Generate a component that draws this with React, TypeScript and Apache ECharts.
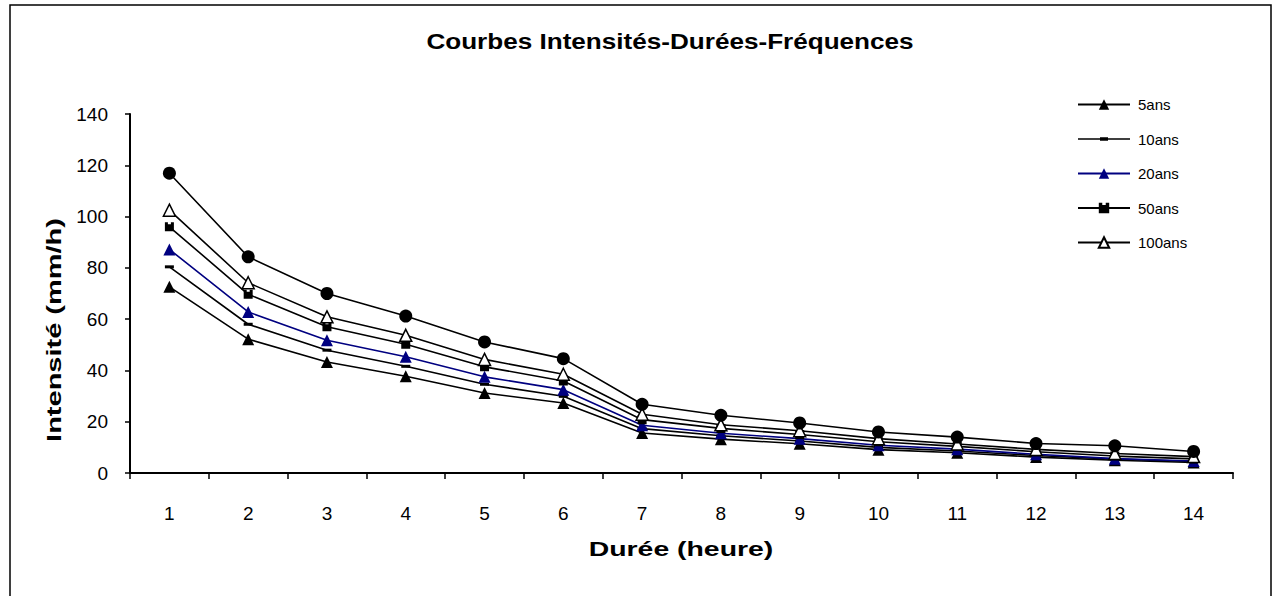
import React, { useEffect, useRef } from "react";
import * as echarts from "echarts";

const categories = ["1", "2", "3", "4", "5", "6", "7", "8", "9", "10", "11", "12", "13", "14"];
const yTicks = [0, 140, 20]; // min, max, interval

const s5ans = [72.6, 52.2, 43.3, 37.7, 31.2, 27.3, 15.6, 13.2, 11.4, 9.1, 7.9, 6.2, 5.0, 4.1];
const s10ans = [80.4, 58.0, 47.9, 41.6, 34.6, 29.9, 17.3, 14.5, 12.5, 10.0, 8.6, 6.8, 5.4, 4.5];
const s20ans = [87.2, 62.8, 51.8, 45.3, 37.5, 32.5, 18.6, 15.5, 13.4, 10.8, 9.3, 7.3, 5.6, 4.7];
const s50ans = [96.0, 69.7, 57.0, 50.2, 41.4, 35.9, 20.8, 17.4, 15.0, 12.2, 10.4, 8.3, 6.6, 5.5];
const s100ans = [102.5, 74.2, 60.9, 53.7, 44.3, 38.5, 22.9, 18.8, 16.5, 13.4, 11.3, 9.2, 7.6, 6.4];
const sSerie6 = [116.9, 84.3, 70.0, 61.2, 51.1, 44.6, 26.8, 22.5, 19.5, 16.0, 14.0, 11.5, 10.6, 8.4];

const legendNames = ["5ans", "10ans", "20ans", "50ans", "100ans"];

const FONT = "'Liberation Sans', Arial, sans-serif";

const DASH = "path://M0,0h9v3h-9z";
const CASTLE = "path://M0,0h3v2h3v-2h3v9h-9z";
const DASH_LEGEND = "path://M0,1h52v1.6h-52z M22,0h8v3.6h-8z";

export default function App() {
  const ref = useRef<HTMLDivElement>(null);
  useEffect(() => {
    if (!ref.current) return;
    const chart = echarts.init(ref.current, undefined, { renderer: "svg" });
    const lineBase = (name: string, data: number[], color: string, symbol: any, symbolSize: any, extraItem: any = {}, keep = false) => ({
      name,
      type: "line",
      data,
      symbol,
      symbolSize,
      symbolKeepAspect: keep,
      showAllSymbol: true,
      lineStyle: { color, width: 1.6 },
      itemStyle: { color, ...extraItem },
      emphasis: { disabled: true },
    });
    chart.setOption({
      animation: false,
      backgroundColor: "#fff",
      textStyle: { fontFamily: FONT },
      grid: { left: 130, right: 47, top: 114, bottom: 123, containLabel: false },
      legend: {
        data: legendNames.map((n) => (n === "10ans" ? { name: n, icon: DASH_LEGEND } : { name: n })),
        orient: "vertical",
        left: 1077,
        top: 97,
        padding: 0,
        itemWidth: 52,
        itemHeight: 13,
        itemGap: 19.5,
        symbolKeepAspect: true,
        textStyle: { fontFamily: FONT, fontSize: 15, color: "#000", padding: [0, 0, 0, 3] },
        selectedMode: false,
      },
      xAxis: {
        type: "category",
        data: categories,
        boundaryGap: true,
        axisLine: { lineStyle: { color: "#000", width: 2 } },
        axisTick: { show: true, inside: false, length: 6, lineStyle: { color: "#000", width: 1.5 } },
        axisLabel: { color: "#000", fontSize: 19, fontFamily: FONT, margin: 31 },
        splitLine: { show: false },
      },
      yAxis: {
        type: "value",
        min: yTicks[0],
        max: yTicks[1],
        interval: yTicks[2],
        axisLine: { show: true, lineStyle: { color: "#000", width: 2 } },
        axisTick: { show: true, inside: false, length: 5, lineStyle: { color: "#000", width: 1.5 } },
        axisLabel: { color: "#000", fontSize: 19, fontFamily: FONT, margin: 22 },
        splitLine: { show: false },
      },
      graphic: [
        {
          type: "rect",
          z: -10,
          shape: { x: 10, y: 5, width: 1261, height: 600 },
          style: { fill: "none", stroke: "#000", lineWidth: 1.5 },
        },
        {
          type: "text",
          x: 670,
          y: 41,
          scaleX: 1.16,
          style: {
            text: "Courbes Intensités-Durées-Fréquences",
            font: `bold 22.5px ${FONT}`,
            fill: "#000",
            textAlign: "center",
            textVerticalAlign: "middle",
          },
        },
        {
          type: "text",
          x: 681,
          y: 549,
          scaleX: 1.42,
          style: {
            text: "Durée (heure)",
            font: `bold 20px ${FONT}`,
            fill: "#000",
            textAlign: "center",
            textVerticalAlign: "middle",
          },
        },
        {
          type: "text",
          x: 54,
          y: 330,
          rotation: Math.PI / 2,
          scaleX: 1.45,
          style: {
            text: "Intensité (mm/h)",
            font: `bold 20px ${FONT}`,
            fill: "#000",
            textAlign: "center",
            textVerticalAlign: "middle",
          },
        },
      ],
      series: [
        lineBase("5ans", s5ans, "#000", "triangle", 12),
        lineBase("10ans", s10ans, "#000", DASH, 9, {}, true),
        lineBase("20ans", s20ans, "#000080", "triangle", 12),
        lineBase("50ans", s50ans, "#000", CASTLE, 9, {}, true),
        lineBase("100ans", s100ans, "#000", "triangle", 12, { color: "#fff", borderColor: "#000", borderWidth: 1.5 }),
        lineBase("Série6", sSerie6, "#000", "circle", 13),
      ],
    });
    return () => chart.dispose();
  }, []);
  return (
    <div
      ref={ref}
      style={{ position: "fixed", left: 0, top: 0, width: 1280, height: 596, background: "#fff" }}
    />
  );
}
